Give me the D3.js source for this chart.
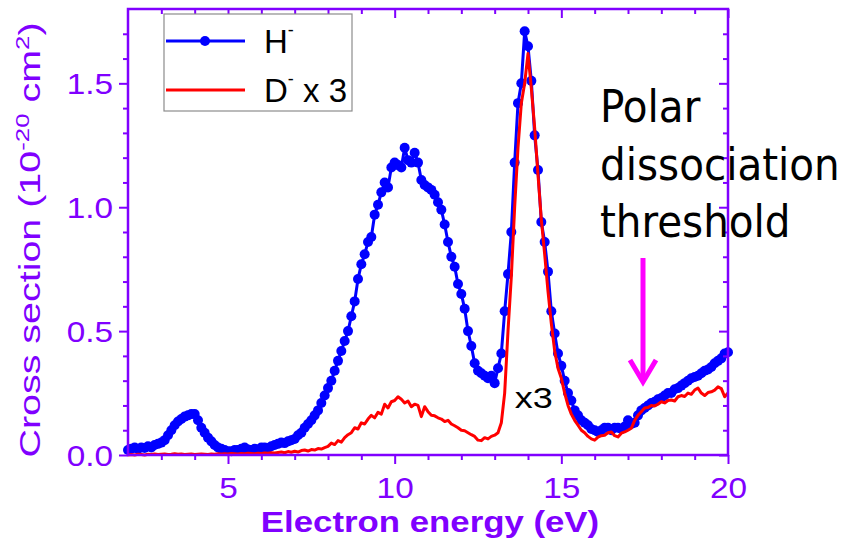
<!DOCTYPE html>
<html>
<head>
<meta charset="utf-8">
<script src="https://cdn.jsdelivr.net/npm/d3@7"></script>
<style>
  body { margin: 0; background: #fff; }
  svg { display: block; }
</style>
</head>
<body>
<svg id="chart"></svg>
<script>
var width = 845, height = 543;
var purple = "#8000ff";

// measurement grid, 0.1 eV steps from 2 to 20 eV
var energy = d3.range(20, 201).map(function(d) { return d / 10; });

// H- cross section (10^-20 cm^2), one row per eV
var hMinus = [
  0.020, 0.025, 0.030, 0.025, 0.030, 0.028, 0.035, 0.030, 0.040, 0.045,
  0.050, 0.060, 0.080, 0.100, 0.120, 0.135, 0.145, 0.155, 0.160, 0.165,
  0.165, 0.140, 0.110, 0.090, 0.070, 0.055, 0.040, 0.030, 0.025, 0.020,
  0.015, 0.015, 0.020, 0.020, 0.025, 0.030, 0.022, 0.020, 0.025, 0.022,
  0.030, 0.030, 0.028, 0.035, 0.040, 0.045, 0.050, 0.048, 0.055, 0.060,
  0.065, 0.080, 0.090, 0.110, 0.125, 0.140, 0.160, 0.180, 0.210, 0.240,
  0.270, 0.300, 0.340, 0.380, 0.420, 0.460, 0.500, 0.560, 0.620, 0.710,
  0.770, 0.810, 0.860, 0.880, 0.970, 1.010, 1.060, 1.100, 1.080, 1.160,
  1.180, 1.170, 1.160, 1.240, 1.190, 1.180, 1.220, 1.180, 1.110, 1.090,
  1.080, 1.070, 1.050, 1.020, 0.990, 0.930, 0.860, 0.800, 0.760, 0.690,
  0.650, 0.590, 0.500, 0.440, 0.370, 0.340, 0.330, 0.320, 0.310, 0.320,
  0.290, 0.350, 0.410, 0.580, 0.730, 0.900, 1.180, 1.420, 1.500, 1.710,
  1.650, 1.510, 1.290, 1.150, 0.940, 0.860, 0.740, 0.580, 0.490, 0.410,
  0.360, 0.300, 0.250, 0.220, 0.180, 0.160, 0.140, 0.130, 0.120, 0.105,
  0.100, 0.093, 0.100, 0.110, 0.110, 0.100, 0.110, 0.110, 0.105, 0.115,
  0.140, 0.125, 0.130, 0.160, 0.180, 0.190, 0.200, 0.210, 0.215, 0.225,
  0.230, 0.240, 0.250, 0.250, 0.265, 0.270, 0.280, 0.290, 0.300, 0.310,
  0.315, 0.320, 0.330, 0.340, 0.345, 0.355, 0.370, 0.380, 0.390, 0.410,
  0.415
];

// D- cross section multiplied by 3
var dMinusX3 = [
  0.000, 0.002, 0.000, 0.003, 0.002, 0.000, 0.003, 0.002, 0.004, 0.002,
  0.003, 0.004, 0.002, 0.003, 0.005, 0.003, 0.004, 0.002, 0.003, 0.004,
  0.002, 0.003, 0.004, 0.003, 0.002, 0.004, 0.003, 0.005, 0.004, 0.005,
  0.004, 0.006, 0.005, 0.004, 0.006, 0.005, 0.007, 0.006, 0.005, 0.007,
  0.006, 0.008, 0.007, 0.009, 0.008, 0.010, 0.012, 0.009, 0.014, 0.011,
  0.015, 0.012, 0.018, 0.020, 0.016, 0.022, 0.020, 0.026, 0.024, 0.030,
  0.035, 0.048, 0.042, 0.058, 0.052, 0.070, 0.082, 0.090, 0.110, 0.105,
  0.130, 0.125, 0.145, 0.160, 0.150, 0.172, 0.165, 0.205, 0.190, 0.215,
  0.220, 0.235, 0.225, 0.210, 0.218, 0.195, 0.205, 0.200, 0.155, 0.195,
  0.175, 0.160, 0.158, 0.150, 0.145, 0.135, 0.140, 0.125, 0.118, 0.110,
  0.100, 0.098, 0.090, 0.082, 0.075, 0.060, 0.058, 0.070, 0.065, 0.075,
  0.080, 0.090, 0.130, 0.250, 0.500, 0.720, 1.000, 1.240, 1.420, 1.500,
  1.620, 1.480, 1.320, 1.130, 0.950, 0.810, 0.660, 0.530, 0.420, 0.350,
  0.310, 0.250, 0.200, 0.165, 0.140, 0.120, 0.100, 0.090, 0.075, 0.065,
  0.060, 0.072, 0.078, 0.080, 0.090, 0.093, 0.078, 0.073, 0.088, 0.093,
  0.100, 0.108, 0.140, 0.160, 0.175, 0.190, 0.192, 0.200, 0.198, 0.205,
  0.215, 0.210, 0.220, 0.222, 0.218, 0.235, 0.240, 0.236, 0.250, 0.245,
  0.262, 0.270, 0.250, 0.240, 0.252, 0.255, 0.262, 0.275, 0.268, 0.235,
  0.250
];

var xMajor = [5, 10, 15, 20];
var xMinor = [3, 4, 6, 7, 8, 9, 11, 12, 13, 14, 16, 17, 18, 19];
var yMajor = [0, 0.5, 1.0, 1.5];
var yMinor = [0.1, 0.2, 0.3, 0.4, 0.6, 0.7, 0.8, 0.9, 1.1, 1.2, 1.3, 1.4, 1.6, 1.7];

var svg = d3.select("#chart")
    .attr("width", width)
    .attr("height", height)
    .style("font-family", "'Liberation Sans', Arial, sans-serif");

var x = d3.scaleLinear().domain([2, 20]).range([128, 728]);
var y = d3.scaleLinear().domain([0, 1.8]).range([455, 9]);

// ---- curves
var hData = energy.map(function(e, i) { return [e, hMinus[i]]; });
var dData = energy.map(function(e, i) { return [e, dMinusX3[i]]; });

var line = d3.line()
    .x(function(d) { return x(d[0]); })
    .y(function(d) { return y(d[1]); });

svg.append("path")
    .datum(hData)
    .attr("d", line)
    .attr("fill", "none")
    .attr("stroke", "#0000ff")
    .attr("stroke-width", 3);

svg.append("g").selectAll("circle")
    .data(hData)
    .enter().append("circle")
    .attr("cx", function(d) { return x(d[0]); })
    .attr("cy", function(d) { return y(d[1]); })
    .attr("r", 5)
    .attr("fill", "#0000ff");

svg.append("path")
    .datum(dData)
    .attr("d", line)
    .attr("fill", "none")
    .attr("stroke", "#ff0000")
    .attr("stroke-width", 3)
    .attr("stroke-linejoin", "round");

// ---- axes
function styleAxis(g) {
    g.select(".domain").remove();
    g.selectAll("line").attr("stroke", purple).attr("stroke-width", 2);
}

// bottom
svg.append("g")
    .attr("transform", "translate(0,455)")
    .call(d3.axisBottom(x).tickValues(xMajor).tickSize(9).tickFormat(d3.format("d")))
    .call(styleAxis)
    .call(function(g) {
        g.selectAll("text")
            .attr("dy", null).attr("y", null)
            .attr("transform", "translate(0,43) scale(1.15,1)")
            .attr("fill", purple)
            .style("font-size", "29px")
            .style("font-family", "'Liberation Sans', Arial, sans-serif");
    });
svg.append("g")
    .attr("transform", "translate(0,455)")
    .call(d3.axisBottom(x).tickValues(xMinor).tickSize(5).tickFormat(""))
    .call(styleAxis);

// top (ticks inward)
svg.append("g")
    .attr("transform", "translate(0,9)")
    .call(d3.axisTop(x).tickValues(xMajor).tickSize(-9).tickFormat(""))
    .call(styleAxis);
svg.append("g")
    .attr("transform", "translate(0,9)")
    .call(d3.axisTop(x).tickValues(xMinor).tickSize(-5).tickFormat(""))
    .call(styleAxis);

// left
svg.append("g")
    .attr("transform", "translate(128,0)")
    .call(d3.axisLeft(y).tickValues(yMajor).tickSize(9).tickFormat(d3.format(".1f")))
    .call(styleAxis)
    .call(function(g) {
        g.selectAll("text")
            .attr("x", null).attr("dy", null)
            .attr("transform", "translate(-15,10) scale(1.15,1)")
            .attr("text-anchor", "end")
            .attr("fill", purple)
            .style("font-size", "29px")
            .style("font-family", "'Liberation Sans', Arial, sans-serif");
    });
svg.append("g")
    .attr("transform", "translate(128,0)")
    .call(d3.axisLeft(y).tickValues(yMinor).tickSize(5).tickFormat(""))
    .call(styleAxis);

// right (ticks inward)
svg.append("g")
    .attr("transform", "translate(728,0)")
    .call(d3.axisRight(y).tickValues(yMajor).tickSize(-9).tickFormat(""))
    .call(styleAxis);
svg.append("g")
    .attr("transform", "translate(728,0)")
    .call(d3.axisRight(y).tickValues(yMinor).tickSize(-5).tickFormat(""))
    .call(styleAxis);

// frame
svg.append("rect")
    .attr("x", x(2)).attr("y", y(1.8))
    .attr("width", x(20) - x(2)).attr("height", y(0) - y(1.8))
    .attr("fill", "none")
    .attr("stroke", purple)
    .attr("stroke-width", 2.5);

// axis titles
svg.append("text")
    .attr("transform", "translate(430,532) scale(1.2,1)")
    .attr("text-anchor", "middle")
    .attr("fill", purple)
    .style("font-size", "29px")
    .style("font-weight", "bold")
    .text("Electron energy (eV)");

var yt = svg.append("text")
    .attr("transform", "translate(40,240) rotate(-90) scale(1.36,1)")
    .attr("text-anchor", "middle")
    .attr("fill", purple)
    .style("font-size", "29px");
yt.append("tspan").text("Cross section (10");
yt.append("tspan").attr("dy", -11).style("font-size", "19px").text("-20");
yt.append("tspan").attr("dy", 11).text(" cm");
yt.append("tspan").attr("dy", -11).style("font-size", "19px").text("2");
yt.append("tspan").attr("dy", 11).text(")");

// ---- legend
var legend = svg.append("g");
legend.append("rect")
    .attr("x", 164).attr("y", 14)
    .attr("width", 188).attr("height", 97)
    .attr("fill", "#fff")
    .attr("stroke", "#8c8c8c")
    .attr("stroke-width", 1.2);
legend.append("line")
    .attr("x1", 166).attr("x2", 245).attr("y1", 41).attr("y2", 41)
    .attr("stroke", "#0000ff").attr("stroke-width", 3);
legend.append("circle")
    .attr("cx", 205).attr("cy", 41).attr("r", 5).attr("fill", "#0000ff");
legend.append("line")
    .attr("x1", 166).attr("x2", 245).attr("y1", 90).attr("y2", 90)
    .attr("stroke", "#ff0000").attr("stroke-width", 3);

var lh = legend.append("text")
    .attr("x", 264).attr("y", 53)
    .attr("fill", "#000")
    .style("font-size", "33px");
lh.append("tspan").text("H");
lh.append("tspan").attr("dy", -17).style("font-size", "18px").text("-");

var ld = legend.append("text")
    .attr("x", 264).attr("y", 102)
    .attr("fill", "#000")
    .style("font-size", "33px");
ld.append("tspan").text("D");
ld.append("tspan").attr("dy", -17).style("font-size", "18px").text("-");
ld.append("tspan").attr("dy", 17).text(" x 3");

// ---- annotations
svg.append("text")
    .attr("transform", "translate(" + x(13.6) + "," + y(0.19) + ") scale(1.2,1)")
    .attr("fill", "#000")
    .style("font-size", "30px")
    .text("x3");

var annotLines = ["Polar", "dissociation", "threshold"];
svg.append("g").selectAll("text")
    .data(annotLines)
    .enter().append("text")
    .attr("x", 600)
    .attr("y", function(d, i) { return 122 + i * 57.5; })
    .attr("fill", "#000")
    .style("font-family", "'DejaVu Sans Condensed', 'DejaVu Sans', sans-serif")
    .style("font-stretch", "condensed")
    .style("font-size", "45px")
    .text(function(d) { return d; });

// threshold arrow
var ax = x(17.45);
svg.append("line")
    .attr("x1", ax).attr("x2", ax)
    .attr("y1", y(0.795)).attr("y2", y(0.295))
    .attr("stroke", "#ff00ff").attr("stroke-width", 5);
svg.append("path")
    .attr("d", "M" + (ax - 13) + "," + (y(0.295) - 22) + "L" + ax + "," + y(0.295) + "L" + (ax + 13) + "," + (y(0.295) - 22))
    .attr("fill", "none")
    .attr("stroke", "#ff00ff")
    .attr("stroke-width", 5);
</script>
</body>
</html>
